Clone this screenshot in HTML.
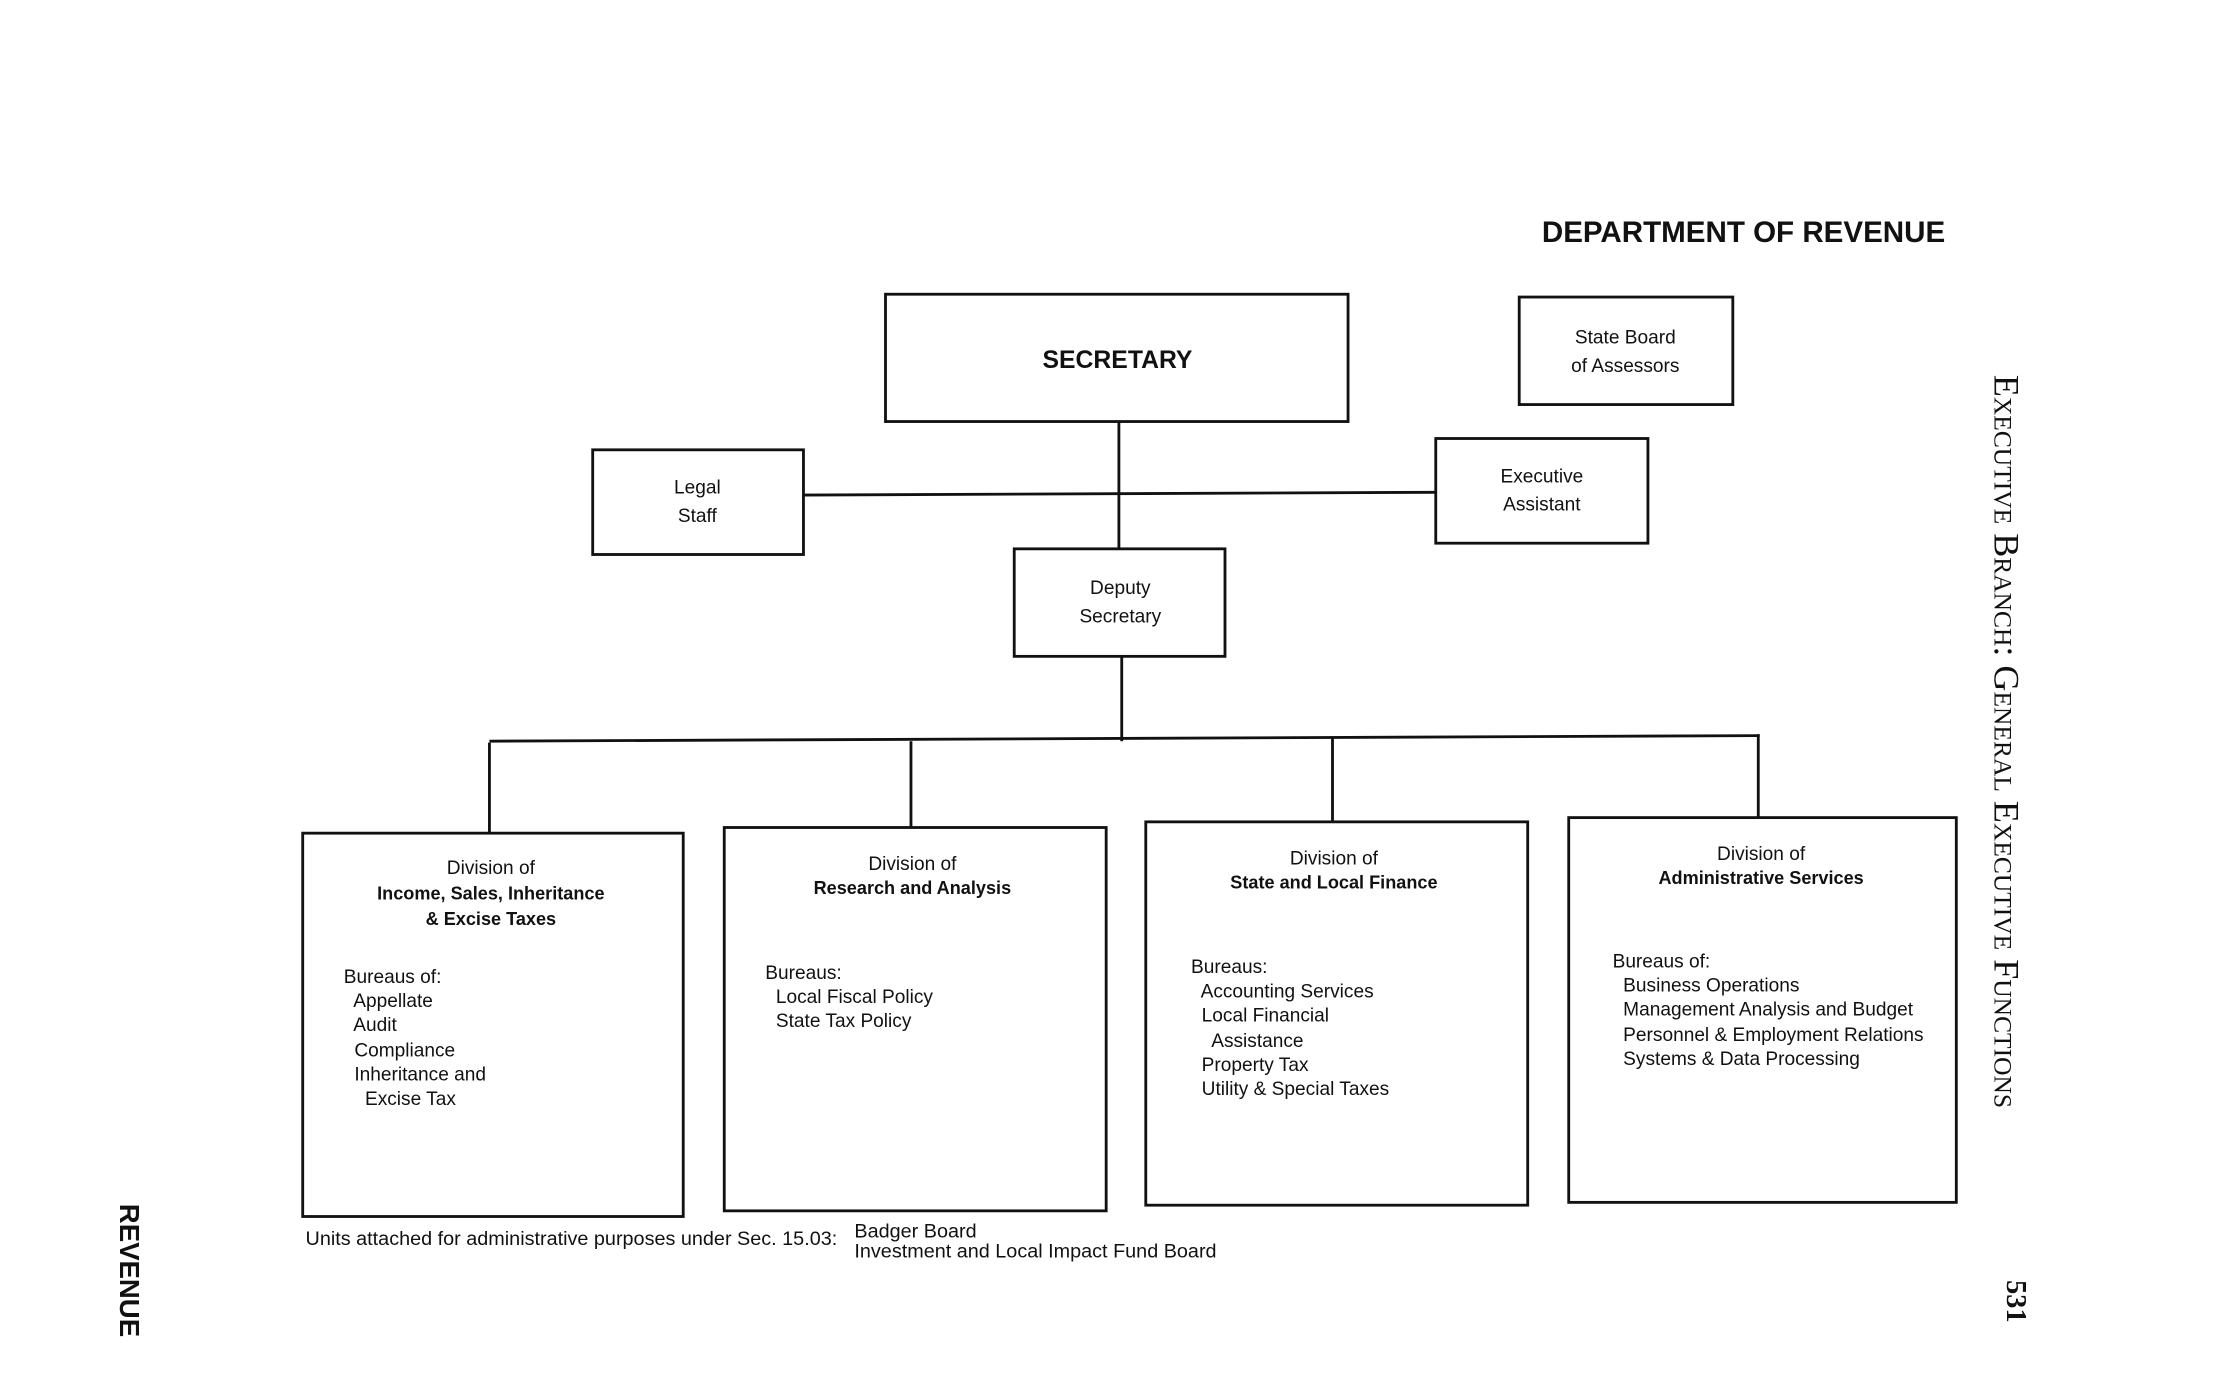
<!DOCTYPE html>
<html><head><meta charset="utf-8"><style>
html,body{margin:0;padding:0;background:#fff;}
body{width:2218px;height:1380px;overflow:hidden;position:relative;}
#w{position:absolute;left:0;top:0;width:1568px;height:976px;transform:scale(1.41454);transform-origin:0 0;font-family:"Liberation Sans",Arial,sans-serif;color:#111;}
.b{position:absolute;border:2.2px solid #111;box-sizing:border-box;}
.h{position:absolute;background:#111;height:2px;}
.v{position:absolute;background:#111;width:1.6px;}
.t{position:absolute;font-size:13.5px;line-height:16px;white-space:nowrap;}
.c{transform:translateX(-50%);text-align:center;}
.bd{font-weight:bold;font-size:12.8px;}
</style></head><body><div id="w">
<div class="t" style="left:1090px;top:153px;font-size:20.9px;line-height:24px;font-weight:bold;">DEPARTMENT OF REVENUE</div>

<div class="b" style="left:625px;top:207px;width:329px;height:92px;"></div>
<div class="t c" style="left:790px;top:243px;font-size:17.5px;line-height:22px;font-weight:bold;">SECRETARY</div>

<div class="b" style="left:1073px;top:209px;width:153px;height:78px;"></div>
<div class="t c" style="left:1149px;top:229px;line-height:20px;">State Board<br>of Assessors</div>

<div class="b" style="left:418px;top:317px;width:151px;height:76px;"></div>
<div class="t c" style="left:493px;top:335px;line-height:20px;">Legal<br>Staff</div>

<div class="b" style="left:1014px;top:309px;width:152px;height:76px;"></div>
<div class="t c" style="left:1090px;top:327px;line-height:20px;">Executive<br>Assistant</div>

<div class="b" style="left:716px;top:387px;width:151px;height:78px;"></div>
<div class="t c" style="left:792px;top:406px;line-height:20px;">Deputy<br>Secretary</div>

<div class="v" style="left:790px;top:298px;height:90px;"></div>
<div class="h" style="left:568px;top:348px;width:447px;transform:rotate(-0.25deg);"></div>
<div class="v" style="left:792px;top:464px;height:60px;"></div>
<div class="h" style="left:346px;top:521px;width:898px;transform:rotate(-0.25deg);"></div>
<div class="v" style="left:345px;top:525px;height:64px;"></div>
<div class="v" style="left:643px;top:524px;height:61px;"></div>
<div class="v" style="left:941px;top:522px;height:59px;"></div>
<div class="v" style="left:1242px;top:519px;height:59px;"></div>

<div class="b" style="left:213px;top:588px;width:271px;height:273px;"></div>
<div class="b" style="left:511px;top:584px;width:272px;height:273px;"></div>
<div class="b" style="left:809px;top:580px;width:272px;height:273px;"></div>
<div class="b" style="left:1108px;top:577px;width:276px;height:274px;"></div>

<div class="t c" style="left:347px;top:606px;">Division of</div>
<div class="t c bd" style="left:347px;top:623px;line-height:17.5px;">Income, Sales, Inheritance<br>&amp; Excise Taxes</div>
<div class="t" style="left:243px;top:682px;line-height:17.2px;">Bureaus of:<br>&nbsp; Appellate<br>&nbsp; Audit<br>&nbsp; Compliance<br>&nbsp; Inheritance and<br>&nbsp;&nbsp;&nbsp; Excise Tax</div>

<div class="t c" style="left:645px;top:603px;">Division of</div>
<div class="t c bd" style="left:645px;top:620px;">Research and Analysis</div>
<div class="t" style="left:541px;top:679px;line-height:17.2px;">Bureaus:<br>&nbsp; Local Fiscal Policy<br>&nbsp; State Tax Policy</div>

<div class="t c" style="left:943px;top:599px;">Division of</div>
<div class="t c bd" style="left:943px;top:616px;">State and Local Finance</div>
<div class="t" style="left:842px;top:675px;line-height:17.2px;">Bureaus:<br>&nbsp; Accounting Services<br>&nbsp; Local Financial<br>&nbsp;&nbsp;&nbsp; Assistance<br>&nbsp; Property Tax<br>&nbsp; Utility &amp; Special Taxes</div>

<div class="t c" style="left:1245px;top:596px;">Division of</div>
<div class="t c bd" style="left:1245px;top:613px;">Administrative Services</div>
<div class="t" style="left:1140px;top:671px;line-height:17.2px;">Bureaus of:<br>&nbsp; Business Operations<br>&nbsp; Management Analysis and Budget<br>&nbsp; Personnel &amp; Employment Relations<br>&nbsp; Systems &amp; Data Processing</div>

<div class="t" style="left:216px;top:867px;font-size:14px;">Units attached for administrative purposes under Sec. 15.03:</div>
<div class="t" style="left:604px;top:863px;line-height:14px;font-size:14px;">Badger Board<br>Investment and Local Impact Fund Board</div>

<div class="t" style="left:1404px;top:265px;writing-mode:vertical-rl;font-family:'Liberation Serif',serif;font-variant:small-caps;font-size:25.5px;line-height:28px;">Executive Branch: General Executive Functions</div>
<div class="t" style="left:1414px;top:905px;writing-mode:vertical-rl;font-family:'Liberation Serif',serif;font-weight:bold;font-size:20px;line-height:22px;">531</div>
<div class="t" style="left:80px;top:851px;writing-mode:vertical-rl;font-weight:bold;font-size:19.5px;line-height:22px;">REVENUE</div>
</div></body></html>
